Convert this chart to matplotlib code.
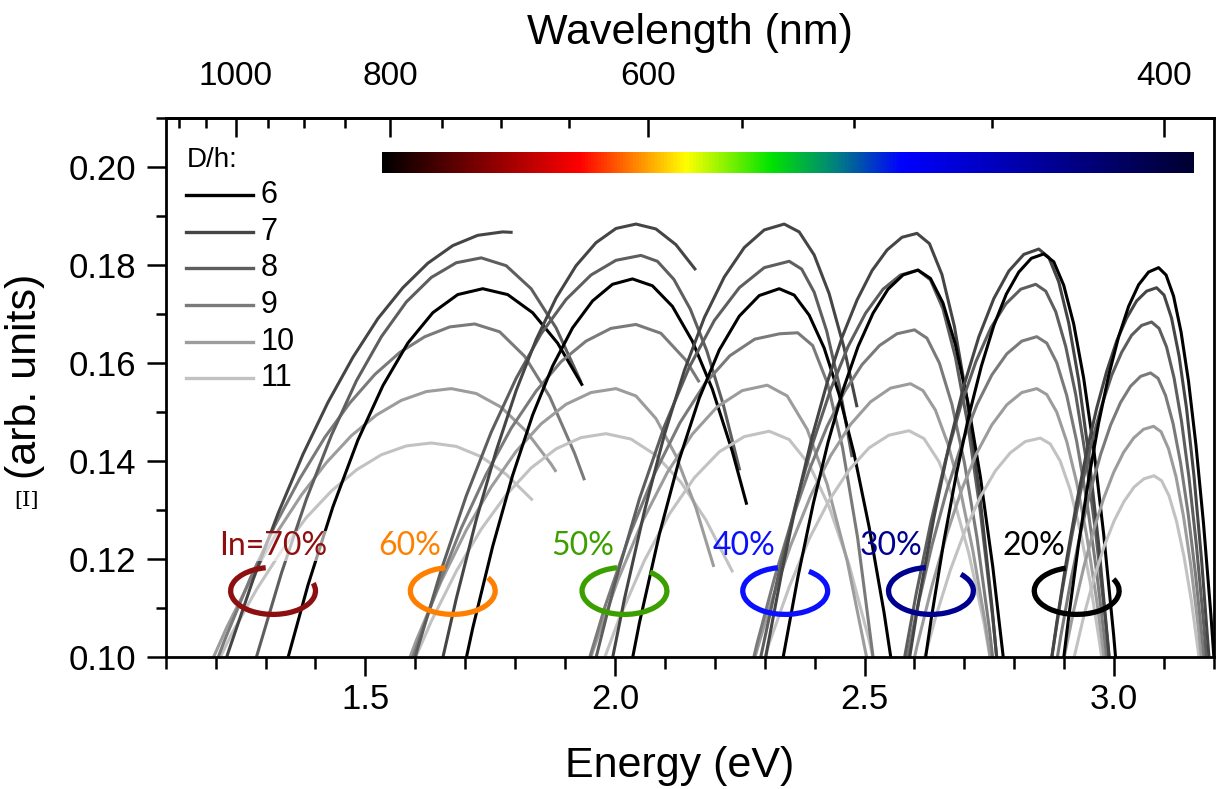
import numpy as np
import matplotlib
matplotlib.use("Agg")
import matplotlib.pyplot as plt
from matplotlib.patches import Arc
from matplotlib.ticker import FixedLocator, MultipleLocator, FormatStrFormatter
from matplotlib.colors import LinearSegmentedColormap

plt.rcParams['font.family'] = ['Liberation Sans', 'DejaVu Sans']

# D/h values and grey levels
dh = ['6', '7', '8', '9', '10', '11']
greys = ['#000000', '#454545', '#5e5e5e', '#7a7a7a', '#9c9c9c', '#c2c2c2']

# In = 70 %  (energy in eV / signal, one list per D/h = 6..11)
e70 = [[1.335, 1.385, 1.435, 1.485, 1.535, 1.585, 1.635, 1.685, 1.735, 1.785, 1.835, 1.885, 1.935],
       [1.175, 1.225, 1.275, 1.325, 1.375, 1.425, 1.475, 1.525, 1.575, 1.625, 1.675, 1.725, 1.775, 1.795],
       [1.232, 1.282, 1.332, 1.382, 1.432, 1.482, 1.532, 1.582, 1.632, 1.682, 1.732, 1.782, 1.832, 1.882, 1.932],
       [1.169, 1.219, 1.269, 1.319, 1.369, 1.419, 1.469, 1.519, 1.569, 1.619, 1.669, 1.719, 1.769, 1.819,
        1.869, 1.919, 1.939],
       [1.172, 1.222, 1.272, 1.322, 1.372, 1.422, 1.472, 1.522, 1.572, 1.622, 1.672, 1.722, 1.772, 1.822,
        1.872, 1.882],
       [1.182, 1.232, 1.282, 1.332, 1.382, 1.432, 1.482, 1.532, 1.582, 1.632, 1.682, 1.732, 1.782, 1.832, 1.835]]
v70 = [[.0962, .1147, .1307, .1443, .1554, .1641, .1703, .1740, .1752, .1740, .1703, .1641, .1554],
       [.0846, .1009, .1158, .1293, .1414, .1520, .1612, .1691, .1754, .1804, .1840, .1861, .1868, .1867],
       [.0810, .1001, .1172, .1323, .1453, .1564, .1654, .1725, .1775, .1805, .1815, .1799, .1752, .1672, .1561],
       [.0903, .1037, .1160, .1269, .1365, .1449, .1519, .1577, .1622, .1654, .1674, .1680, .1664, .1614,
        .1532, .1416, .1361],
       [.0945, .1060, .1162, .1253, .1331, .1397, .1452, .1494, .1524, .1542, .1548, .1538, .1510, .1461,
        .1394, .1378],
       [.0943, .1047, .1138, .1217, .1285, .1339, .1382, .1413, .1431, .1437, .1430, .1409, .1373, .1323, .1320]]

# In = 60 %
e60 = [[1.675, 1.715, 1.755, 1.795, 1.835, 1.875, 1.915, 1.955, 1.995, 2.035, 2.075, 2.115, 2.155, 2.195,
        2.235, 2.264],
       [1.642, 1.682, 1.722, 1.762, 1.802, 1.842, 1.882, 1.922, 1.962, 2.002, 2.042, 2.082, 2.122, 2.162],
       [1.552, 1.602, 1.652, 1.702, 1.752, 1.802, 1.852, 1.902, 1.952, 2.002, 2.052, 2.085, 2.118, 2.151,
        2.184, 2.217, 2.250],
       [1.542, 1.592, 1.642, 1.692, 1.742, 1.792, 1.842, 1.892, 1.942, 1.992, 2.042, 2.092, 2.142, 2.169],
       [1.552, 1.602, 1.652, 1.702, 1.752, 1.802, 1.852, 1.902, 1.952, 2.002, 2.042, 2.082, 2.122, 2.162, 2.198],
       [1.532, 1.582, 1.632, 1.682, 1.732, 1.782, 1.832, 1.882, 1.932, 1.982, 2.032, 2.082, 2.132, 2.182, 2.236]]
v60 = [[.0870, .1059, .1226, .1371, .1494, .1594, .1672, .1727, .1761, .1772, .1758, .1716, .1645, .1547,
        .1420, .1311],
       [.0940, .1119, .1280, .1421, .1544, .1648, .1733, .1799, .1846, .1875, .1884, .1874, .1842, .1790],
       [.0817, .1008, .1178, .1329, .1459, .1569, .1660, .1730, .1780, .1810, .1820, .1808, .1771, .1710,
        .1625, .1515, .1381],
       [.0829, .0991, .1135, .1263, .1373, .1467, .1543, .1603, .1645, .1671, .1679, .1661, .1606, .1561],
       [.0898, .1034, .1155, .1259, .1347, .1420, .1476, .1516, .1540, .1548, .1533, .1487, .1411, .1305, .1184],
       [.0823, .0956, .1073, .1175, .1261, .1331, .1386, .1425, .1448, .1456, .1445, .1412, .1357, .1280, .1173]]

# In = 50 %
e50 = [[2.009, 2.049, 2.089, 2.129, 2.169, 2.209, 2.249, 2.289, 2.329, 2.359, 2.389, 2.419, 2.449, 2.479,
        2.509, 2.539, 2.569],
       [1.979, 2.019, 2.059, 2.099, 2.139, 2.179, 2.219, 2.259, 2.299, 2.339, 2.369, 2.399, 2.429, 2.459, 2.485],
       [1.899, 1.949, 1.999, 2.049, 2.099, 2.149, 2.199, 2.249, 2.299, 2.349, 2.374, 2.399, 2.424, 2.449, 2.475],
       [1.930, 1.980, 2.030, 2.080, 2.130, 2.180, 2.230, 2.280, 2.330, 2.366, 2.396, 2.426, 2.456, 2.486,
        2.516, 2.526],
       [1.905, 1.955, 2.005, 2.055, 2.105, 2.155, 2.205, 2.255, 2.305, 2.345, 2.385, 2.425, 2.465, 2.505],
       [1.909, 1.959, 2.009, 2.059, 2.109, 2.159, 2.209, 2.259, 2.309, 2.349, 2.389, 2.429, 2.469, 2.509, 2.549]]
v50 = [[.0861, .1070, .1251, .1404, .1529, .1627, .1696, .1738, .1752, .1739, .1698, .1631, .1536, .1415,
        .1266, .1091, .0888],
       [.0916, .1119, .1298, .1454, .1585, .1693, .1776, .1836, .1872, .1884, .1868, .1821, .1742, .1631, .1510],
       [.0717, .0946, .1148, .1323, .1471, .1592, .1687, .1754, .1795, .1808, .1792, .1745, .1666, .1556, .1408],
       [.0933, .1103, .1251, .1376, .1478, .1558, .1615, .1649, .1660, .1662, .1636, .1558, .1427, .1244,
        .1008, .0920],
       [.0843, .1010, .1155, .1277, .1377, .1455, .1511, .1544, .1555, .1533, .1465, .1353, .1197, .0995],
       [.0784, .0943, .1080, .1197, .1292, .1366, .1419, .1450, .1461, .1444, .1393, .1307, .1188, .1035, .0847]]

# In = 40 %
e40 = [[2.307, 2.337, 2.367, 2.397, 2.427, 2.457, 2.487, 2.517, 2.547, 2.577, 2.607, 2.632, 2.657, 2.682,
        2.707, 2.732, 2.757, 2.782],
       [2.275, 2.305, 2.335, 2.365, 2.395, 2.425, 2.455, 2.485, 2.515, 2.545, 2.575, 2.605, 2.630, 2.655,
        2.680, 2.705, 2.730, 2.755, 2.780],
       [2.257, 2.292, 2.327, 2.362, 2.397, 2.432, 2.467, 2.502, 2.537, 2.572, 2.607, 2.632, 2.657, 2.682,
        2.707, 2.732, 2.757, 2.782],
       [2.250, 2.285, 2.320, 2.355, 2.390, 2.425, 2.460, 2.495, 2.530, 2.565, 2.600, 2.625, 2.650, 2.675,
        2.700, 2.725, 2.750, 2.775],
       [2.232, 2.272, 2.312, 2.352, 2.392, 2.432, 2.472, 2.512, 2.552, 2.592, 2.617, 2.642, 2.667, 2.692,
        2.717, 2.742, 2.767],
       [2.269, 2.309, 2.349, 2.389, 2.429, 2.469, 2.509, 2.549, 2.589, 2.619, 2.649, 2.679, 2.709, 2.739, 2.769]]
v40 = [[.0814, .1000, .1166, .1312, .1439, .1546, .1634, .1702, .1751, .1780, .1790, .1773, .1723, .1638,
        .1520, .1368, .1183, .0963],
       [.0839, .1017, .1178, .1322, .1450, .1560, .1653, .1729, .1789, .1831, .1857, .1865, .1844, .1781,
        .1675, .1527, .1337, .1105, .0830],
       [.0815, .1000, .1166, .1312, .1439, .1546, .1634, .1702, .1751, .1780, .1790, .1770, .1711, .1612,
        .1474, .1296, .1079, .0822],
       [.0879, .1029, .1163, .1281, .1384, .1471, .1542, .1597, .1636, .1660, .1668, .1651, .1600, .1516,
        .1397, .1245, .1058, .0838],
       [.0815, .0971, .1109, .1228, .1329, .1411, .1475, .1521, .1549, .1558, .1544, .1504, .1435, .1340,
        .1217, .1068, .0890],
       [.0896, .1028, .1143, .1241, .1320, .1382, .1427, .1453, .1462, .1446, .1399, .1321, .1211, .1071, .0898]]

# In = 30 %
e30 = [[2.609, 2.634, 2.659, 2.684, 2.709, 2.734, 2.759, 2.784, 2.809, 2.834, 2.859, 2.879, 2.899, 2.919,
        2.939, 2.959, 2.979, 2.999, 3.019],
       [2.579, 2.609, 2.639, 2.669, 2.699, 2.729, 2.759, 2.789, 2.819, 2.849, 2.869, 2.889, 2.909, 2.929,
        2.949, 2.969, 2.989, 3.009],
       [2.573, 2.603, 2.633, 2.663, 2.693, 2.723, 2.753, 2.783, 2.813, 2.843, 2.863, 2.883, 2.903, 2.923,
        2.943, 2.963, 2.983, 3.003],
       [2.575, 2.605, 2.635, 2.665, 2.695, 2.725, 2.755, 2.785, 2.815, 2.845, 2.865, 2.885, 2.905, 2.925,
        2.945, 2.965, 2.985, 3.005],
       [2.575, 2.605, 2.635, 2.665, 2.695, 2.725, 2.755, 2.785, 2.815, 2.845, 2.865, 2.885, 2.905, 2.925,
        2.945, 2.965, 2.985],
       [2.612, 2.642, 2.672, 2.702, 2.732, 2.762, 2.792, 2.822, 2.852, 2.872, 2.892, 2.912, 2.932, 2.952,
        2.972, 2.992]]
v30 = [[.0907, .1081, .1237, .1374, .1493, .1594, .1677, .1741, .1786, .1814, .1823, .1807, .1759, .1680,
        .1569, .1426, .1251, .1045, .0807],
       [.0928, .1118, .1285, .1431, .1554, .1654, .1732, .1788, .1822, .1833, .1816, .1766, .1682, .1565,
        .1414, .1230, .1012, .0760],
       [.0959, .1127, .1276, .1405, .1514, .1603, .1672, .1721, .1751, .1761, .1747, .1705, .1634, .1536,
        .1409, .1254, .1071, .0860],
       [.0949, .1097, .1228, .1341, .1436, .1515, .1576, .1619, .1645, .1654, .1641, .1601, .1534, .1440,
        .1320, .1173, .1000, .0799],
       [.0882, .1022, .1145, .1252, .1343, .1417, .1474, .1515, .1540, .1548, .1536, .1500, .1440, .1356,
        .1248, .1116, .0960],
       [.0968, .1080, .1178, .1260, .1327, .1380, .1417, .1440, .1447, .1435, .1400, .1341, .1258, .1152,
        .1022, .0869]]

# In = 20 %
e20 = [[2.889, 2.909, 2.929, 2.949, 2.969, 2.989, 3.009, 3.029, 3.049, 3.069, 3.089, 3.104, 3.119, 3.134,
        3.149, 3.164, 3.179, 3.194, 3.209],
       [2.865, 2.885, 2.905, 2.925, 2.945, 2.965, 2.985, 3.005, 3.025, 3.045, 3.065, 3.085, 3.100, 3.115,
        3.130, 3.145, 3.160, 3.175, 3.190, 3.205],
       [2.855, 2.875, 2.895, 2.915, 2.935, 2.955, 2.975, 2.995, 3.015, 3.035, 3.055, 3.075, 3.090, 3.105,
        3.120, 3.135, 3.150, 3.165, 3.180, 3.195],
       [2.873, 2.893, 2.913, 2.933, 2.953, 2.973, 2.993, 3.013, 3.033, 3.053, 3.073, 3.088, 3.103, 3.118,
        3.133, 3.148, 3.163, 3.178, 3.193],
       [2.879, 2.899, 2.919, 2.939, 2.959, 2.979, 2.999, 3.019, 3.039, 3.059, 3.079, 3.094, 3.109, 3.124,
        3.139, 3.154, 3.169, 3.184],
       [2.900, 2.920, 2.940, 2.960, 2.980, 3.000, 3.020, 3.040, 3.060, 3.080, 3.095, 3.110, 3.125, 3.140,
        3.155, 3.170, 3.185]]
v20 = [[.0915, .1082, .1232, .1364, .1478, .1575, .1654, .1716, .1760, .1786, .1795, .1780, .1737, .1664,
        .1563, .1432, .1273, .1084, .0866],
       [.0926, .1070, .1200, .1316, .1419, .1508, .1583, .1645, .1692, .1727, .1747, .1754, .1739, .1692,
        .1615, .1508, .1369, .1200, .1000, .0769],
       [.0856, .1000, .1130, .1246, .1349, .1438, .1513, .1575, .1622, .1657, .1677, .1684, .1671, .1633,
        .1570, .1481, .1366, .1226, .1061, .0870],
       [.0916, .1042, .1155, .1255, .1341, .1414, .1474, .1520, .1553, .1573, .1580, .1569, .1534, .1477,
        .1397, .1295, .1169, .1021, .0850],
       [.0883, .0995, .1095, .1183, .1259, .1324, .1377, .1418, .1447, .1465, .1471, .1460, .1425, .1368,
        .1287, .1184, .1057, .0908],
       [.0902, .1000, .1087, .1162, .1226, .1278, .1318, .1347, .1364, .1370, .1360, .1329, .1277, .1205,
        .1113, .1000, .0866]]

# composition markers
in_labels = ['In=70%', '60%', '50%', '40%', '30%', '20%']
in_colors = ['#8e0f0f', '#ff8000', '#3c9f00', '#0a10ff', '#000090', '#000000']
ring_e = [1.315, 1.675, 2.019, 2.341, 2.633, 2.925]
label_e = [1.315, 1.589, 1.935, 2.259, 2.552, 2.839]
ring_gap = [(19, 100), (34, 100), (53, 100), (56, 100), (45, 97), (30, 105)]

# visible spectrum strip
spec_pos = [0.0, 0.243, 0.374, 0.479, 0.56, 0.641, 1.0]
spec_col = ['#000000', '#ff0000', '#ffff00', '#00e400', '#008080', '#0000ff', '#000030']

groups = [(e70, v70), (e60, v60), (e50, v50), (e40, v40), (e30, v30), (e20, v20)]

fig = plt.figure(figsize=(12.25, 7.89), dpi=100)
ax = fig.add_axes([0.1353, 0.1673, 0.8557, 0.6828])

for ee, vv in groups:
    for i in range(5, -1, -1):
        ax.plot(ee[i], vv[i], color=greys[i], lw=2.2, solid_capstyle='butt',
                solid_joinstyle='round')

ax.set_xlim(1.1, 3.2)
ax.set_ylim(0.10, 0.21)

# spectrum bar
cmap = LinearSegmentedColormap.from_list('spec', list(zip(spec_pos, spec_col)))
ax.imshow(np.linspace(0, 1, 512).reshape(1, -1), cmap=cmap, aspect='auto',
          extent=[1.533, 3.158, 0.1989, 0.2030], zorder=3)

# rings (open ellipses) and labels
rw, rh = 0.17, 0.0096
for k in range(6):
    g0, g1 = np.deg2rad(ring_gap[k])
    # Arc stretches its angles by width/height, undo that so the gap sits where drawn
    t1 = np.rad2deg(np.arctan2(np.sin(g1), (rw / rh) * np.cos(g1)))
    t2 = np.rad2deg(np.arctan2(np.sin(g0), (rw / rh) * np.cos(g0))) + 360
    ax.add_patch(Arc((ring_e[k], 0.1135), rw, rh, theta1=t1, theta2=t2,
                     color=in_colors[k], lw=3.8, zorder=4))
    kw = {}
    if k == 0:
        kw['bbox'] = dict(facecolor='white', edgecolor='none', alpha=0.6, pad=0)
    ax.text(label_e[k], 0.1226, in_labels[k], color=in_colors[k], fontsize=23,
            family=['Lato', 'DejaVu Sans'], ha='center', va='center', zorder=5, **kw)

# legend drawn by hand
ax.text(0.0205, 0.9226, 'D/h:', transform=ax.transAxes, fontsize=20, va='center', ha='left')
for i in range(6):
    yy = 0.8576 - i * 0.0681
    ax.plot([0.0194, 0.0833], [yy, yy], transform=ax.transAxes, color=greys[i], lw=2.4)
    ax.text(0.0905, yy, dh[i], transform=ax.transAxes, fontsize=22, va='center', ha='left')

# axes styling
for s in ax.spines.values():
    s.set_linewidth(2.0)
ax.xaxis.set_major_locator(MultipleLocator(0.5))
ax.xaxis.set_minor_locator(MultipleLocator(0.1))
ax.yaxis.set_major_locator(MultipleLocator(0.02))
ax.yaxis.set_minor_locator(MultipleLocator(0.01))
ax.xaxis.set_major_formatter(FormatStrFormatter('%.1f'))
ax.yaxis.set_major_formatter(FormatStrFormatter('%.2f'))
ax.tick_params(which='major', direction='out', length=14, width=1.8, labelsize=25, pad=5)
ax.tick_params(which='minor', direction='out', length=8.5, width=1.8)
ax.tick_params(axis='y', which='major', length=13.5, pad=8)
ax.tick_params(axis='y', which='minor', length=7)
ax.tick_params(top=False, right=False, which='both')

ax.set_xlabel('Energy (eV)', fontsize=31)
ax.xaxis.set_label_coords(0.49, -0.165)
ax.set_ylabel('(arb. units)', fontsize=31)
ax.yaxis.set_label_coords(-0.115, 0.52)
fig.text(27 / 1225, 1 - 500 / 789, '[I]', family='DejaVu Serif', fontsize=15,
         ha='center', va='center')


def e2nm(e):
    e = np.asarray(e, dtype=float)
    with np.errstate(divide='ignore'):
        return 1239.84 / e


secax = ax.secondary_xaxis('top', functions=(e2nm, e2nm))
secax.set_xticks([1000, 800, 600, 400])
secax.xaxis.set_minor_locator(FixedLocator(np.arange(400, 1101, 50)))
secax.xaxis.set_major_formatter(FormatStrFormatter('%d'))
secax.tick_params(which='major', direction='in', length=14, width=1.8, labelsize=24, pad=19)
secax.tick_params(which='minor', direction='in', length=7, width=1.8)
secax.spines['top'].set_linewidth(2.0)
secax.set_xlabel('Wavelength (nm)', fontsize=31, labelpad=12)

fig.savefig('out.png', dpi=100)
